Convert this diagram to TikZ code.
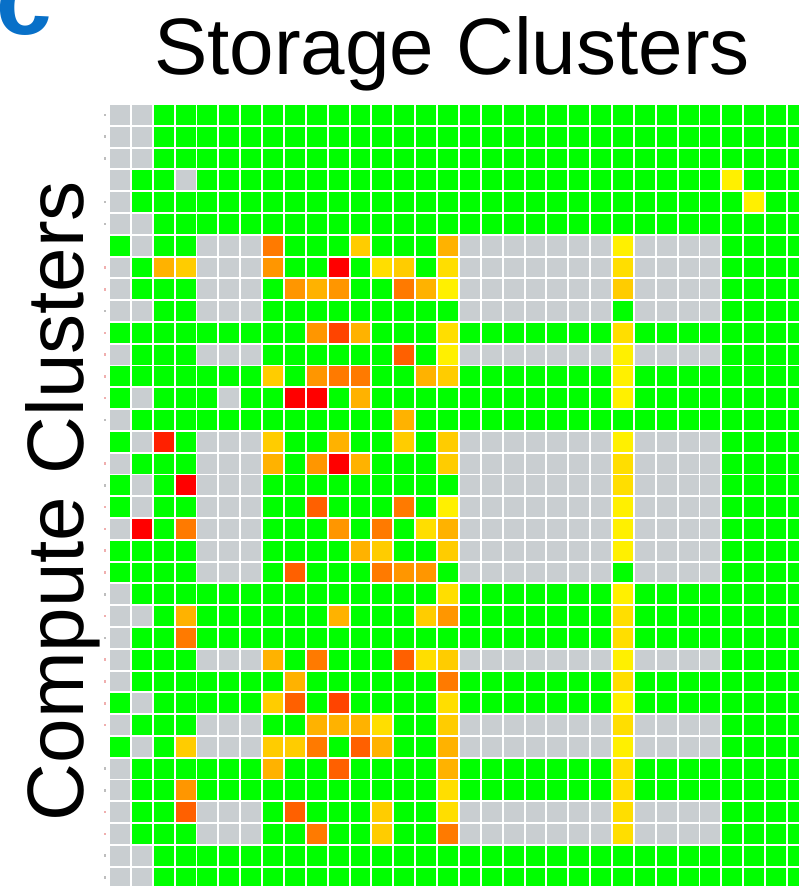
\documentclass[tikz,border=0pt]{standalone}
\usepackage{fontspec}
\setmainfont{Liberation Sans}
% heat-map palette
\definecolor{hmG}{RGB}{0,255,0}
\definecolor{hmS}{RGB}{201,206,209}
\definecolor{hma}{RGB}{255,240,0}
\definecolor{hmb}{RGB}{255,222,0}
\definecolor{hmc}{RGB}{255,204,0}
\definecolor{hmd}{RGB}{255,178,0}
\definecolor{hme}{RGB}{255,150,0}
\definecolor{hmf}{RGB}{255,122,0}
\definecolor{hmg}{RGB}{255,96,0}
\definecolor{hmh}{RGB}{255,68,0}
\definecolor{hmq}{RGB}{255,32,0}
\definecolor{hmr}{RGB}{255,0,0}
\definecolor{panelblue}{RGB}{8,112,200}
\definecolor{tickp}{RGB}{240,175,175}
\definecolor{tickg}{RGB}{190,190,190}
\definecolor{tickn}{RGB}{255,255,255}
\begin{document}
\begin{tikzpicture}[x=1pt,y=-1pt,
  axislabel/.style={inner sep=0pt, font=\fontsize{80}{96}\selectfont},
  cellbox/.style={fill=hm#1}]
\useasboundingbox (0,0) rectangle (799,886);
\fill[white] (0,0) rectangle (799,886);
\begin{scope}
\clip (0,0) rectangle (799,886);

% panel letter
\node[anchor=base east, inner sep=0pt, text=panelblue,
      font=\fontsize{100}{120}\selectfont\bfseries] (panel) at (52,34) {c};

% axis titles
\node[axislabel, anchor=base] (xlabel) at (452,74) {Storage Clusters};
\node[axislabel, anchor=base, rotate=90] (ylabel) at (83,501) {Compute Clusters};

% faint row ticks
\foreach \t [count=\i from 0] in {g,g,g,n,g,g,n,p,p,g,p,p,p,p,g,n,p,g,p,p,p,p,g,p,g,p,p,p,p,n,g,g,p,p,g,g}{
  \fill[tick\t] (104.3,{105+\i*21.79+8.6}) rectangle ++(1.2,2.6);
}

% compute x storage matrix
\foreach \rowdata [count=\i from 0] in {
{S,S,G,G,G,G,G,G,G,G,G,G,G,G,G,G,G,G,G,G,G,G,G,G,G,G,G,G,G,G,G,G},
{S,S,G,G,G,G,G,G,G,G,G,G,G,G,G,G,G,G,G,G,G,G,G,G,G,G,G,G,G,G,G,G},
{S,S,G,G,G,G,G,G,G,G,G,G,G,G,G,G,G,G,G,G,G,G,G,G,G,G,G,G,G,G,G,G},
{S,G,G,S,G,G,G,G,G,G,G,G,G,G,G,G,G,G,G,G,G,G,G,G,G,G,G,G,a,G,G,G},
{S,G,G,G,G,G,G,G,G,G,G,G,G,G,G,G,G,G,G,G,G,G,G,G,G,G,G,G,G,a,G,G},
{S,S,G,G,G,G,G,G,G,G,G,G,G,G,G,G,G,G,G,G,G,G,G,G,G,G,G,G,G,G,G,G},
{G,S,G,G,S,S,S,f,G,G,G,c,G,G,G,d,S,S,S,S,S,S,S,a,S,S,S,S,G,G,G,G},
{S,G,d,c,S,S,S,e,G,G,r,G,b,c,G,b,S,S,S,S,S,S,S,b,S,S,S,S,G,G,G,G},
{S,G,G,G,S,S,S,G,e,d,e,G,G,f,d,a,S,S,S,S,S,S,S,c,S,S,S,S,G,G,G,G},
{S,S,G,G,S,S,S,G,G,G,G,G,G,G,G,G,S,S,S,S,S,S,S,G,S,S,S,S,G,G,G,G},
{G,G,G,G,G,G,G,G,G,e,h,d,G,G,G,b,G,G,G,G,G,G,G,b,G,G,G,G,G,G,G,G},
{S,G,G,G,S,S,S,G,G,G,G,G,G,g,G,a,S,S,S,S,S,S,S,a,S,S,S,S,G,G,G,G},
{G,G,G,G,G,G,G,c,G,e,f,f,G,G,d,c,G,G,G,G,G,G,G,a,G,G,G,G,G,G,G,G},
{G,S,G,G,G,S,G,G,r,r,G,d,G,G,G,G,G,G,G,G,G,G,G,a,G,G,G,G,G,G,G,G},
{S,G,G,G,G,G,G,G,G,G,G,G,G,d,G,G,G,G,G,G,G,G,G,G,G,G,G,G,G,G,G,G},
{G,S,q,G,S,S,S,c,G,G,d,G,G,c,G,c,S,S,S,S,S,S,S,a,S,S,S,S,G,G,G,G},
{S,G,G,G,S,S,S,d,G,e,r,d,G,G,G,c,S,S,S,S,S,S,S,b,S,S,S,S,G,G,G,G},
{G,S,G,r,S,S,S,G,G,G,G,G,G,G,G,G,S,S,S,S,S,S,S,b,S,S,S,S,G,G,G,G},
{G,S,G,G,S,S,S,G,G,g,G,G,G,f,G,a,S,S,S,S,S,S,S,a,S,S,S,S,G,G,G,G},
{S,r,G,f,S,S,S,G,G,G,e,G,f,G,b,d,S,S,S,S,S,S,S,a,S,S,S,S,G,G,G,G},
{G,G,G,G,S,S,S,G,G,G,G,d,c,G,G,c,S,S,S,S,S,S,S,a,S,S,S,S,G,G,G,G},
{G,G,G,G,S,S,S,G,g,G,G,G,f,e,e,G,S,S,S,S,S,S,S,G,S,S,S,S,G,G,G,G},
{S,G,G,G,G,G,G,G,G,G,G,G,G,G,G,b,G,G,G,G,G,G,G,a,G,G,G,G,G,G,G,G},
{S,S,G,d,G,G,G,G,G,G,d,G,G,G,c,e,G,G,G,G,G,G,G,b,G,G,G,G,G,G,G,G},
{S,G,G,f,G,G,G,G,G,G,G,G,G,G,G,G,G,G,G,G,G,G,G,b,G,G,G,G,G,G,G,G},
{S,G,G,G,S,S,S,d,G,f,G,G,G,g,b,c,S,S,S,S,S,S,S,a,S,S,S,S,G,G,G,G},
{S,G,G,G,G,G,G,G,d,G,G,G,G,G,G,f,G,G,G,G,G,G,G,b,G,G,G,G,G,G,G,G},
{G,S,G,G,G,G,G,c,g,G,h,G,G,G,G,b,G,G,G,G,G,G,G,a,G,G,G,G,G,G,G,G},
{S,G,G,G,S,S,S,G,G,d,d,d,b,G,G,c,S,S,S,S,S,S,S,b,S,S,S,S,G,G,G,G},
{G,S,G,c,S,S,S,c,c,f,G,g,d,G,G,d,S,S,S,S,S,S,S,a,S,S,S,S,G,G,G,G},
{S,G,G,G,G,G,G,d,G,G,g,G,G,G,G,d,G,G,G,G,G,G,G,b,G,G,G,G,G,G,G,G},
{S,G,G,e,G,G,G,G,G,G,G,G,G,G,G,b,G,G,G,G,G,G,G,b,G,G,G,G,G,G,G,G},
{S,G,G,g,S,S,S,G,g,G,G,G,c,G,G,b,S,S,S,S,S,S,S,b,S,S,S,S,G,G,G,G},
{S,G,G,G,S,S,S,G,G,f,G,G,c,G,G,f,S,S,S,S,S,S,S,b,S,S,S,S,G,G,G,G},
{S,S,G,G,G,G,G,G,G,G,G,G,G,G,G,G,G,G,G,G,G,G,G,G,G,G,G,G,G,G,G,G},
{S,S,G,G,G,G,G,G,G,G,G,G,G,G,G,G,G,G,G,G,G,G,G,G,G,G,G,G,G,G,G,G}}{
  \foreach \cl [count=\j from 0] in \rowdata {
    \fill[cellbox=\cl] ({110+\j*21.87},{105+\i*21.79}) rectangle ++(19.9,19.9);
  }
}
\end{scope}
\end{tikzpicture}
\end{document}
